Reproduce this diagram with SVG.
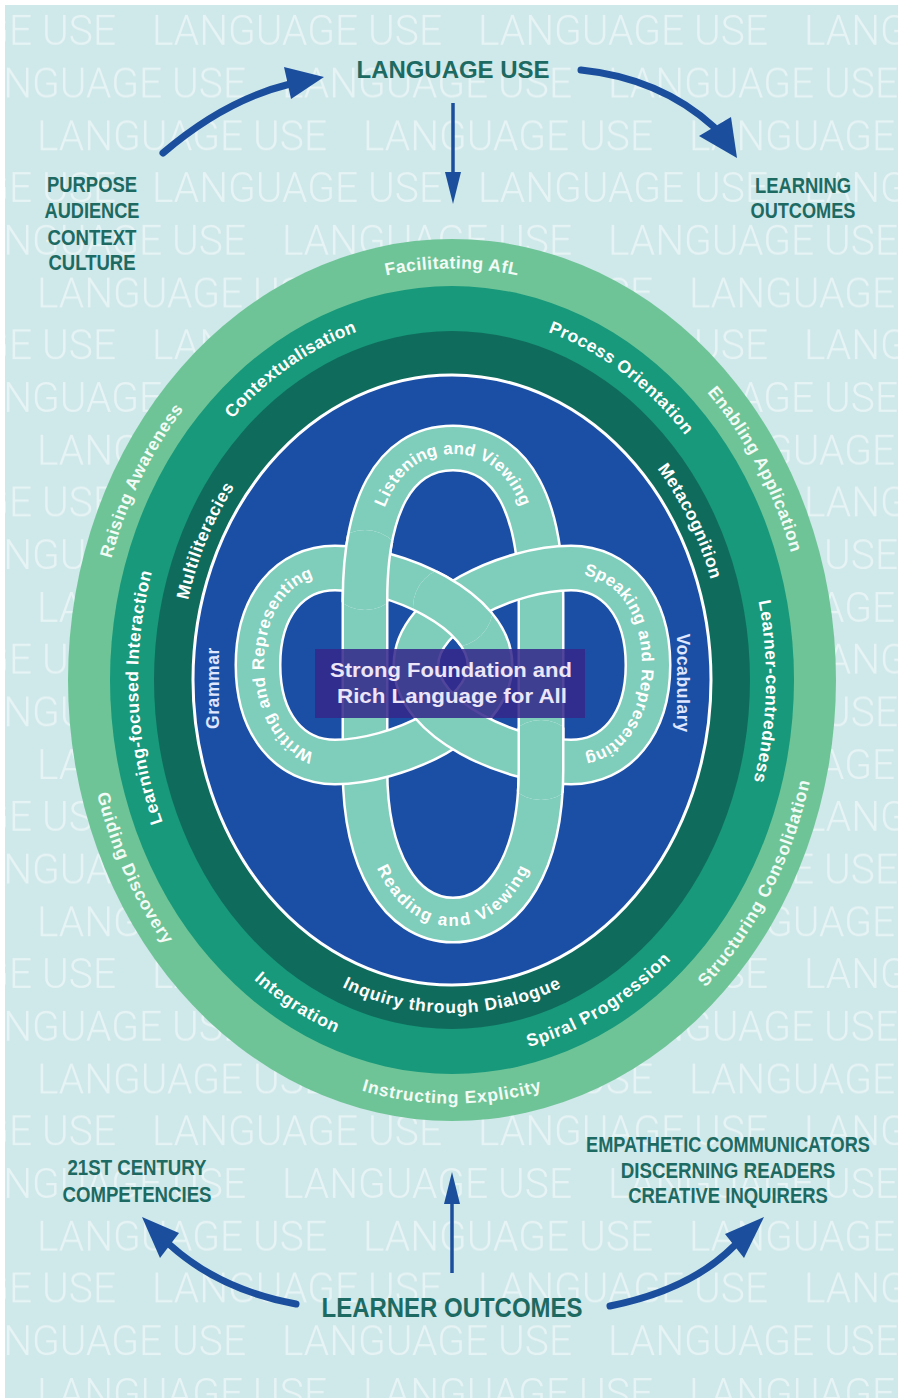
<svg xmlns="http://www.w3.org/2000/svg" xmlns:xlink="http://www.w3.org/1999/xlink" width="898" height="1398" viewBox="0 0 898 1398">
<style>
.wm{font-family:Roboto,"Liberation Sans",sans-serif;font-weight:300;font-size:42px;fill:#ffffff;fill-opacity:0.5}
.lab{font-family:"Liberation Sans",Arial,sans-serif;font-weight:bold;font-size:22px;fill:#1d6a62;text-anchor:middle}
.bl{font-family:"Liberation Sans",Arial,sans-serif;font-weight:bold;font-size:17.5px;fill:#ffffff;letter-spacing:0.6px}
.bo{fill:#f2fbf5}
.kl{font-family:"Liberation Sans",Arial,sans-serif;font-weight:bold;font-size:17px;fill:#ffffff;letter-spacing:1px}
.ko{fill:none;stroke:#ffffff;stroke-width:47}
.kf{fill:none;stroke:#7fcdbb;stroke-width:42}
.arr{fill:none;stroke:#1b4f9d;stroke-width:7;stroke-linecap:round}
.arrs{fill:none;stroke:#1b4f9d;stroke-width:3.5}
.head{fill:#1b4f9d}
</style>
<defs>
<pattern id="wm" patternUnits="userSpaceOnUse" x="0" y="0" width="326" height="157.2">
<text class="wm" x="152" y="45" textLength="290" lengthAdjust="spacingAndGlyphs">LANGUAGE USE</text>
<text class="wm" x="-174" y="45" textLength="290" lengthAdjust="spacingAndGlyphs">LANGUAGE USE</text>
<text class="wm" x="282" y="97.4" textLength="290" lengthAdjust="spacingAndGlyphs">LANGUAGE USE</text>
<text class="wm" x="-44" y="97.4" textLength="290" lengthAdjust="spacingAndGlyphs">LANGUAGE USE</text>
<text class="wm" x="37" y="149.8" textLength="290" lengthAdjust="spacingAndGlyphs">LANGUAGE USE</text>
<text class="wm" x="-289" y="149.8" textLength="290" lengthAdjust="spacingAndGlyphs">LANGUAGE USE</text>
</pattern>
<path id="vr" d="M365,600 C365,510 392,448 453,448 C514,448 541,510 541,600 L541,770 C541,860 506,920 453,920 C400,920 365,860 365,770 Z"/>
<path id="lr" d="M258,665 C258,605 290,568 335,568 C395,568 490,610 490,665 C490,720 395,762 335,762 C290,762 258,725 258,665 Z"/>
<path id="rr" d="M648,665 C648,605 616,568 571,568 C511,568 416,610 416,665 C416,720 511,762 571,762 C616,762 648,725 648,665 Z"/>
<clipPath id="cUL"><circle cx="365" cy="570" r="40"/></clipPath>
<clipPath id="cLR"><circle cx="541" cy="760" r="40"/></clipPath>
<clipPath id="cTC"><circle cx="453" cy="607" r="40"/></clipPath>
<path id="pFac" d="M174.3,411.6 A362.5,417.5 0 0 1 729.7,411.6"/>
<path id="pEna" d="M496.2,265.6 A362.5,417.5 0 0 1 798.7,802.1"/>
<path id="pStr" d="M502.5,1093.4 A362.5,417.5 0 0 0 796.8,551"/>
<path id="pIns" d="M174.3,948.4 A362.5,417.5 0 0 0 729.7,948.4"/>
<path id="pGui" d="M113.6,530.4 A362.5,417.5 0 0 0 382.8,1089.8"/>
<path id="pRai" d="M109.3,815.9 A362.5,417.5 0 0 1 395.3,267.6"/>
<path id="pCon" d="M137.9,609.1 A320,371.5 0 0 1 566.7,333.2"/>
<path id="pPro" d="M347.8,328.7 A320,371.5 0 0 1 768.1,621.9"/>
<path id="pLea" d="M666.1,403.9 A320,371.5 0 0 1 649,972.7"/>
<path id="pSpi" d="M321.9,1019.4 A320,371.5 0 0 0 762.5,769.9"/>
<path id="pInt" d="M140.2,763.6 A320,371.5 0 0 0 577,1022"/>
<path id="pLfi" d="M259.4,976.7 A320,371.5 0 0 1 233.8,408.3"/>
<path id="pMul" d="M180.6,753.6 A278.5,327 0 0 1 343.2,379"/>
<path id="pMet" d="M542.7,370.8 A278.5,327 0 0 1 727.1,731.1"/>
<path id="pInq" d="M238.7,890.2 A278.5,327 0 0 0 665.3,890.2"/>
<path id="kLis" d="M365,600 C365,510 392,448 453,448 C514,448 541,510 541,600"/>
<path id="kRea" d="M365,770 C365,860 400,920 453,920 C506,920 541,860 541,770"/>
<path id="kWri" d="M335,762 C290,762 258,725 258,665 C258,605 290,568 335,568"/>
<path id="kSpe" d="M571,568 C616,568 648,605 648,665 C648,725 616,762 571,762"/>
</defs>

<g id="background">
<rect x="0" y="0" width="898" height="1398" fill="#ffffff"/>
<rect x="5" y="5" width="893" height="1393" fill="#cfe8ea"/>
<rect x="5" y="5" width="893" height="1393" fill="url(#wm)"/>
</g>

<g id="node-framework">
<ellipse cx="452" cy="680" rx="384" ry="441" fill="#6fc497"/>
<ellipse cx="452" cy="680" rx="342" ry="394" fill="#18997b"/>
<ellipse cx="452" cy="680" rx="298" ry="349" fill="#0f6c5d"/>
<ellipse cx="452" cy="680" rx="259" ry="305" fill="#1b4fa6" stroke="#ffffff" stroke-width="3"/>

<g id="outer-band-labels">
<text class="bl bo" dy="6"><textPath href="#pFac" startOffset="50%" text-anchor="middle">Facilitating AfL</textPath></text>
<text class="bl bo" dy="6"><textPath href="#pEna" startOffset="50%" text-anchor="middle">Enabling Application</textPath></text>
<text class="bl bo" dy="6"><textPath href="#pStr" startOffset="50%" text-anchor="middle">Structuring Consolidation</textPath></text>
<text class="bl bo" dy="6"><textPath href="#pIns" startOffset="50%" text-anchor="middle">Instructing Explicity</textPath></text>
<text class="bl bo" dy="6"><textPath href="#pGui" startOffset="50%" text-anchor="middle">Guiding Discovery</textPath></text>
<text class="bl bo" dy="6"><textPath href="#pRai" startOffset="50%" text-anchor="middle">Raising Awareness</textPath></text>
</g>
<g id="middle-band-labels">
<text class="bl" dy="6"><textPath href="#pCon" startOffset="50%" text-anchor="middle">Contextualisation</textPath></text>
<text class="bl" dy="6"><textPath href="#pPro" startOffset="50%" text-anchor="middle">Process Orientation</textPath></text>
<text class="bl" dy="6"><textPath href="#pLea" startOffset="50%" text-anchor="middle">Learner-centredness</textPath></text>
<text class="bl" dy="6"><textPath href="#pSpi" startOffset="50%" text-anchor="middle">Spiral Progression</textPath></text>
<text class="bl" dy="6"><textPath href="#pInt" startOffset="50%" text-anchor="middle">Integration</textPath></text>
<text class="bl" dy="6"><textPath href="#pLfi" startOffset="50%" text-anchor="middle">Learning-focused Interaction</textPath></text>
</g>
<g id="inner-band-labels">
<text class="bl" dy="6"><textPath href="#pMul" startOffset="50%" text-anchor="middle">Multiliteracies</textPath></text>
<text class="bl" dy="6"><textPath href="#pMet" startOffset="50%" text-anchor="middle">Metacognition</textPath></text>
<text class="bl" dy="6"><textPath href="#pInq" startOffset="50%" text-anchor="middle">Inquiry through Dialogue</textPath></text>
<text class="bl" style="fill:#dfe6ff" text-anchor="middle" transform="translate(219,688) rotate(-90)">Grammar</text>
<text class="bl" style="fill:#dfe6ff" text-anchor="middle" transform="translate(677,683) rotate(90)">Vocabulary</text>
</g>

<g id="knot">
<use href="#vr" class="ko"/><use href="#vr" class="kf"/>
<use href="#lr" class="ko"/><use href="#lr" class="kf"/>
<use href="#rr" class="ko"/><use href="#rr" class="kf"/>
<g clip-path="url(#cUL)"><use href="#vr" class="ko"/><use href="#vr" class="kf"/></g>
<g clip-path="url(#cLR)"><use href="#vr" class="ko"/><use href="#vr" class="kf"/></g>
<g clip-path="url(#cTC)"><use href="#lr" class="ko"/><use href="#lr" class="kf"/></g>
<text class="kl" dy="6"><textPath href="#kLis" startOffset="50%" text-anchor="middle">Listening and Viewing</textPath></text>
<text class="kl" dy="6"><textPath href="#kRea" startOffset="50%" text-anchor="middle">Reading and Viewing</textPath></text>
<text class="kl" dy="6"><textPath href="#kWri" startOffset="50%" text-anchor="middle">Writing and Representing</textPath></text>
<text class="kl" dy="6"><textPath href="#kSpe" startOffset="50%" text-anchor="middle">Speaking and Representing</textPath></text>
</g>

<g id="node-centre">
<rect x="315" y="649" width="270" height="69" fill="#34288a" fill-opacity="0.86"/>
<text x="451" y="677" text-anchor="middle" font-family="Liberation Sans, Arial, sans-serif" font-weight="bold" font-size="21" fill="#ece6f8" textLength="242" lengthAdjust="spacingAndGlyphs">Strong Foundation and</text>
<text x="452" y="703" text-anchor="middle" font-family="Liberation Sans, Arial, sans-serif" font-weight="bold" font-size="21" fill="#ece6f8" textLength="230" lengthAdjust="spacingAndGlyphs">Rich Language for All</text>
</g>
</g>

<g id="node-language-use">
<text class="lab" x="453" y="78" style="font-size:24px" textLength="193" lengthAdjust="spacingAndGlyphs">LANGUAGE USE</text>
</g>
<g id="node-purpose">
<text class="lab" x="92" y="192" textLength="90" lengthAdjust="spacingAndGlyphs">PURPOSE</text>
<text class="lab" x="92" y="218" textLength="95" lengthAdjust="spacingAndGlyphs">AUDIENCE</text>
<text class="lab" x="92" y="245" textLength="89" lengthAdjust="spacingAndGlyphs">CONTEXT</text>
<text class="lab" x="92" y="270" textLength="87" lengthAdjust="spacingAndGlyphs">CULTURE</text>
</g>
<g id="node-learning-outcomes">
<text class="lab" x="803" y="193" textLength="96" lengthAdjust="spacingAndGlyphs">LEARNING</text>
<text class="lab" x="803" y="218" textLength="105" lengthAdjust="spacingAndGlyphs">OUTCOMES</text>
</g>
<g id="node-21st-century">
<text class="lab" x="137" y="1175" textLength="139" lengthAdjust="spacingAndGlyphs">21ST CENTURY</text>
<text class="lab" x="137" y="1202" textLength="149" lengthAdjust="spacingAndGlyphs">COMPETENCIES</text>
</g>
<g id="node-outcomes-list">
<text class="lab" transform="translate(728,1152) scale(0.825,1)" x="0" y="0">EMPATHETIC COMMUNICATORS</text>
<text class="lab" transform="translate(728,1178) scale(0.853,1)" x="0" y="0">DISCERNING READERS</text>
<text class="lab" transform="translate(728,1203) scale(0.84,1)" x="0" y="0">CREATIVE INQUIRERS</text>
</g>
<g id="node-learner-outcomes">
<text class="lab" x="452" y="1317" style="font-size:27px" textLength="261" lengthAdjust="spacingAndGlyphs">LEARNER OUTCOMES</text>
</g>

<g id="connectors">
<path class="arr" d="M163,153 Q225,100 290,84"/>
<polygon class="head" points="284,67 324,77 291,99"/>
<path class="arr" d="M581,70 Q660,78 714,127"/>
<polygon class="head" points="699,136 737,158 731,117"/>
<path class="arrs" d="M453,103 L453,178"/>
<polygon class="head" points="445,172 453,204 461,172"/>
<path class="arrs" d="M452,1273 L452,1198"/>
<polygon class="head" points="444,1204 452,1172 460,1204"/>
<path class="arr" d="M296,1304 Q220,1290 170,1245"/>
<polygon class="head" points="142,1217 179,1233 160,1258"/>
<path class="arr" d="M610,1306 Q690,1290 734,1246"/>
<polygon class="head" points="764,1217 725,1234 744,1258"/>
</g>
</svg>
